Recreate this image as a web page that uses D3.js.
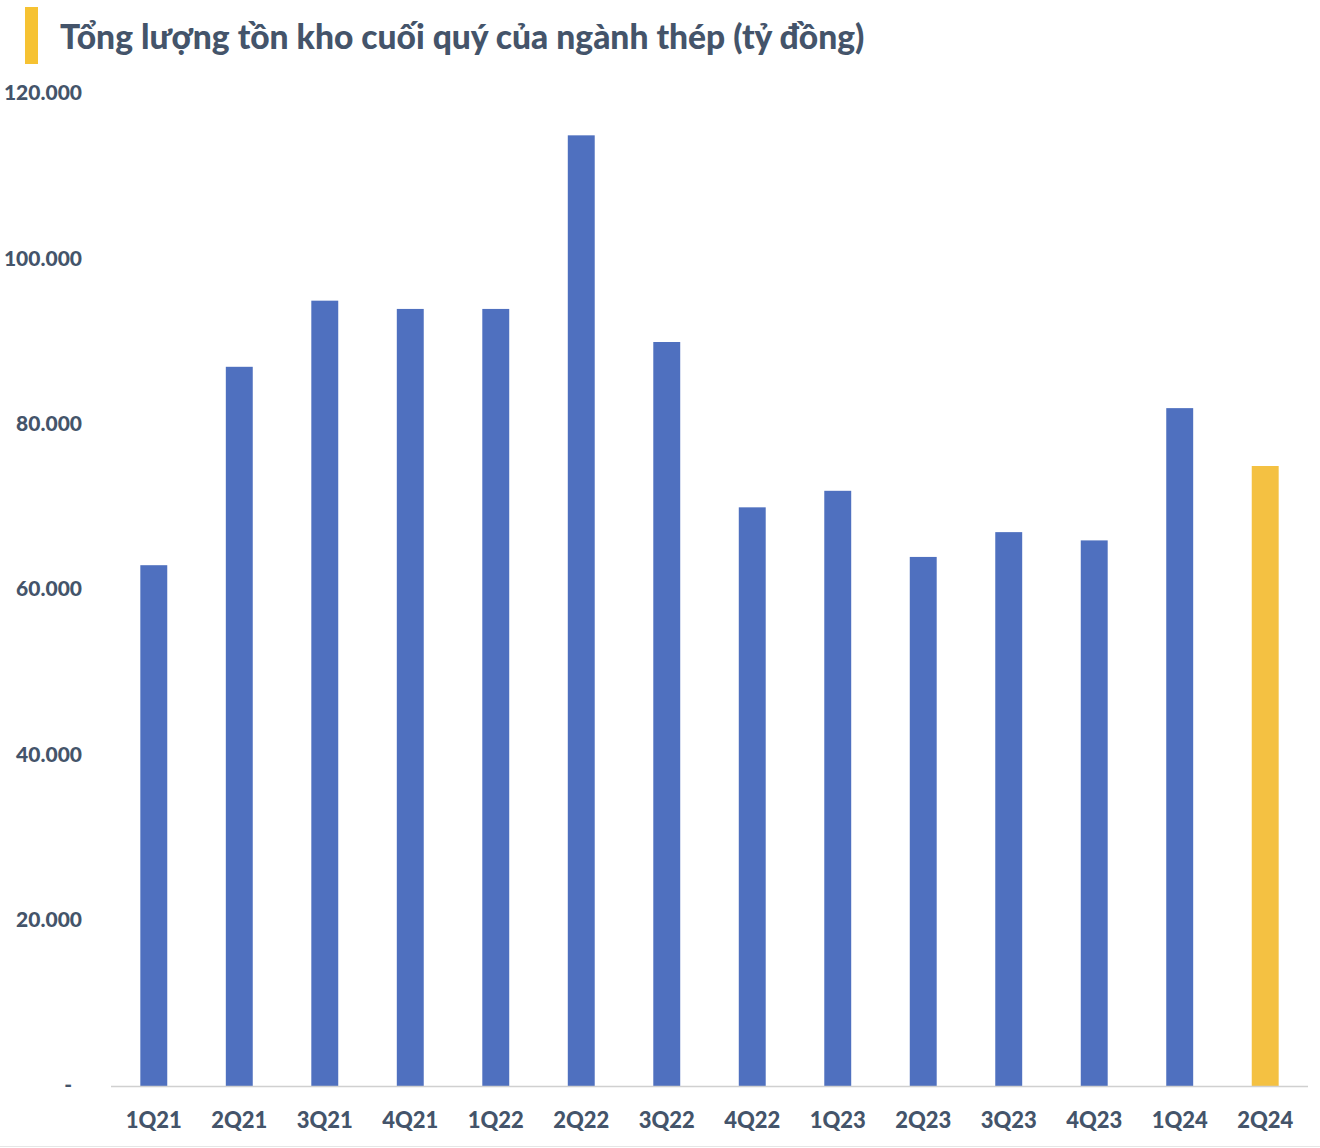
<!DOCTYPE html>
<html>
<head>
<meta charset="utf-8">
<script src="https://cdn.jsdelivr.net/npm/d3@7"></script>
<style>
  body { margin: 0; background: #fff; }
  text { font-family: Lato, "Open Sans", sans-serif; font-weight: 900; fill: #44546a; }
</style>
</head>
<body>
<script>
// du lieu
var quarters = ["1Q21","2Q21","3Q21","4Q21","1Q22","2Q22","3Q22","4Q22","1Q23","2Q23","3Q23","4Q23","1Q24","2Q24"];
var inventory = [63000, 87000, 95000, 94000, 94000, 115000, 90000, 70000, 72000, 64000, 67000, 66000, 82000, 75000];
var yTicks = [0, 20000, 40000, 60000, 80000, 100000, 120000];

var width = 1320, height = 1148;
var svg = d3.select("body").append("svg")
   .attr("width", width)
   .attr("height", height);

// tieu de
svg.append("rect")
   .attr("x", 25).attr("y", 7)
   .attr("width", 13).attr("height", 57)
   .attr("fill", "#f6c232");
svg.append("text")
   .attr("x", 60).attr("y", 49)
   .style("font-size", "33.6px")
   .text("Tổng lượng tồn kho cuối quý của ngành thép (tỷ đồng)");

var x = d3.scaleBand()
   .domain(quarters)
   .range([111, 1308])
   .paddingInner(0.685)
   .paddingOuter(0.343);

var y = d3.scaleLinear()
   .domain([0, 120000])
   .range([1086, 94]);

var fmt = function(d) { return d === 0 ? "-" : d3.format(",")(d).replace(/,/g, "."); };

// truc y
svg.selectAll(".ytick")
   .data(yTicks)
   .enter()
   .append("text")
   .attr("class", "ytick")
   .attr("x", function(d) { return d === 0 ? 72 : 82; })
   .attr("y", function(d) { return y(d) - 1; })
   .attr("dy", "0.35em")
   .attr("text-anchor", "end")
   .style("font-size", "21px")
   .text(fmt);

// cot
svg.selectAll(".bar")
   .data(inventory)
   .enter()
   .append("rect")
   .attr("class", "bar")
   .attr("x", function(d, i) { return x(quarters[i]); })
   .attr("width", x.bandwidth())
   .attr("y", function(d) { return y(d); })
   .attr("height", function(d) { return y(0) - y(d); })
   .attr("fill", function(d, i) { return i === quarters.length - 1 ? "#f4c142" : "#4f70bf"; });

// truc x
svg.append("line")
   .attr("x1", 111).attr("x2", 1308)
   .attr("y1", y(0) + 0.5).attr("y2", y(0) + 0.5)
   .attr("stroke", "#d0d0d0")
   .attr("stroke-width", 1.5);

svg.selectAll(".xlabel")
   .data(quarters)
   .enter()
   .append("text")
   .attr("class", "xlabel")
   .attr("x", function(d) { return x(d) + x.bandwidth() / 2; })
   .attr("y", 1128)
   .attr("text-anchor", "middle")
   .style("font-size", "22px")
   .text(function(d) { return d; });

svg.append("line")
   .attr("x1", 0).attr("x2", width)
   .attr("y1", 1146.5).attr("y2", 1146.5)
   .attr("stroke", "#e6e6e6");
</script>
</body>
</html>
